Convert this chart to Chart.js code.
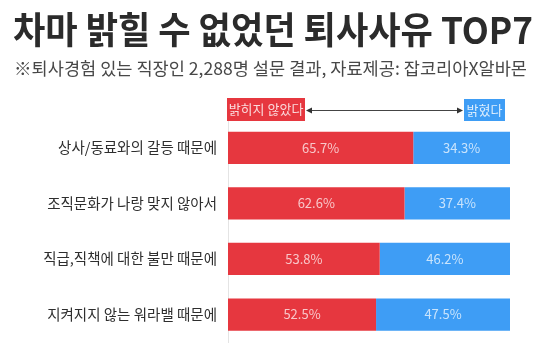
<!DOCTYPE html>
<html><head><meta charset="utf-8">
<script src="https://cdn.jsdelivr.net/npm/chart.js@4/dist/chart.umd.min.js"></script>
<style>
html,body{margin:0;padding:0;background:#fff;overflow:hidden;width:544px;height:358px;}
#wrap{position:absolute;left:0;top:0;width:544px;height:362px;}
</style></head>
<body>
<div id="wrap"><canvas id="c"></canvas></div>
<script>
const TITLE = '차마 밝힐 수 없었던 퇴사사유 TOP7';
const SUBTITLE = '※퇴사경험 있는 직장인 2,288명 설문 결과, 자료제공: 잡코리아X알바몬';
const categories = ['상사/동료와의 갈등 때문에', '조직문화가 나랑 맞지 않아서', '직급,직책에 대한 불만 때문에', '지켜지지 않는 워라밸 때문에'];
const seriesNames = ['밝히지 않았다', '밝혔다'];
const notRevealed = [65.7, 62.6, 53.8, 52.5];
const revealed = [34.3, 37.4, 46.2, 47.5];

const RED = '#e6373f', BLUE = '#3e9df5';
const FONT = '"Noto Sans CJK KR", "Noto Sans", sans-serif';

function fitScaled(ctx, s, x, y, w, font, color){
  ctx.save();
  ctx.font = font; ctx.letterSpacing = '0px';
  const w0 = ctx.measureText(s).width;
  ctx.translate(x, y);
  ctx.scale(w / w0, 1);
  ctx.fillStyle = color; ctx.textAlign = 'left'; ctx.textBaseline = 'middle';
  ctx.fillText(s, 0, 0);
  ctx.restore();
}

const headerPlugin = {
  id: 'header',
  afterDraw(chart){
    const ctx = chart.ctx;
    ctx.save();
    fitScaled(ctx, TITLE, 13, 30, 520, 'bold 37px ' + FONT, '#2b2b2b');
    fitScaled(ctx, SUBTITLE, 14, 68, 513, '17.5px ' + FONT, '#484848');
    // legend boxes
    ctx.fillStyle = RED; ctx.fillRect(227, 98, 78, 23);
    ctx.fillStyle = BLUE; ctx.fillRect(464, 99, 41, 22);
    ctx.font = '13px ' + FONT; ctx.textAlign = 'center'; ctx.textBaseline = 'middle';
    ctx.fillStyle = 'rgba(255,255,255,0.82)';
    ctx.fillText(seriesNames[0], 227 + 39, 109.5);
    ctx.fillText(seriesNames[1], 464 + 20.5, 110);
    // double arrow
    ctx.strokeStyle = '#444'; ctx.lineWidth = 1;
    ctx.beginPath(); ctx.moveTo(309, 110.5); ctx.lineTo(460, 110.5); ctx.stroke();
    ctx.fillStyle = '#333';
    ctx.beginPath(); ctx.moveTo(306, 110.5); ctx.lineTo(312, 107.5); ctx.lineTo(312, 113.5); ctx.closePath(); ctx.fill();
    ctx.beginPath(); ctx.moveTo(463, 110.5); ctx.lineTo(457, 107.5); ctx.lineTo(457, 113.5); ctx.closePath(); ctx.fill();
    ctx.restore();
  }
};

const valuePlugin = {
  id: 'values',
  afterDatasetsDraw(chart){
    const ctx = chart.ctx; ctx.save();
    ctx.font = '13px ' + FONT; ctx.textAlign = 'center'; ctx.textBaseline = 'middle';
    ctx.fillStyle = 'rgba(255,255,255,0.72)';
    chart.data.datasets.forEach((ds, i) => {
      chart.getDatasetMeta(i).data.forEach((el, j) => {
        ctx.fillText(ds.data[j].toFixed(1) + '%', (el.x + el.base) / 2, el.y);
      });
    });
    ctx.restore();
  }
};

new Chart(document.getElementById('c'), {
  type: 'bar',
  data: {
    labels: categories,
    datasets: [
      { label: seriesNames[0], data: notRevealed, backgroundColor: RED },
      { label: seriesNames[1], data: revealed, backgroundColor: BLUE }
    ]
  },
  options: {
    indexAxis: 'y',
    responsive: true,
    maintainAspectRatio: false,
    animation: false,
    layout: { padding: { left: 0, right: 34, top: 120, bottom: 3 } },
    datasets: { bar: { categoryPercentage: 1, barPercentage: 0.58 } },
    plugins: { legend: { display: false }, tooltip: { enabled: false } },
    scales: {
      x: { stacked: true, min: 0, max: 100, display: false },
      y: {
        stacked: true,
        afterFit(scale){ scale.width = 228; },
        grid: { display: false, drawTicks: false },
        border: { display: true, color: '#e4e4e4', width: 1 },
        ticks: { padding: 11, color: '#2e2e2e', font: { family: FONT, size: 14.5 } }
      }
    }
  },
  plugins: [headerPlugin, valuePlugin]
});
</script>
</body></html>
